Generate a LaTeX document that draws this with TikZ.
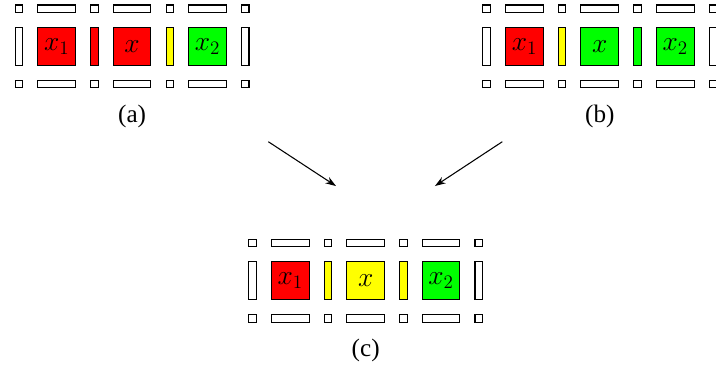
\documentclass[tikz,border=0pt]{standalone}
\usepackage{fontspec}
\setmainfont{Liberation Serif}
\usetikzlibrary{positioning,arrows.meta,calc}
\definecolor{CellRed}{RGB}{255,0,0}
\definecolor{CellGreen}{RGB}{0,255,0}
\definecolor{CellYellow}{RGB}{255,255,0}

\tikzset{
  cell/.style={draw, line width=0.8pt, inner sep=0pt, outer sep=0pt, fill=white},
  dot/.style={cell, minimum width=0.2cm, minimum height=0.2cm},
  hbar/.style={cell, minimum width=1cm, minimum height=0.2cm},
  vbar/.style={cell, minimum width=0.2cm, minimum height=1cm},
  sq/.style={cell, minimum width=1cm, minimum height=1cm, font=\fontsize{22}{24}\selectfont},
  caption/.style={font=\fontsize{19}{21}\selectfont},
  flow/.style={-{Stealth[length=8pt, width=5.5pt]}, line width=0.8pt}
}

% one 7x3 cell panel: #1 name, #2 origin, #3-#9 fills of the middle row
\newcommand{\cellpanel}[9]{%
  \begin{scope}[shift={(#2)}]
    \foreach \i in {0,2,4,6} {
      \node[dot] (#1-t\i) at (\i,1) {};
      \node[dot] (#1-b\i) at (\i,-1) {};
    }
    \foreach \i in {1,3,5} {
      \node[hbar] (#1-t\i) at (\i,1) {};
      \node[hbar] (#1-b\i) at (\i,-1) {};
    }
    \node[vbar, fill=#3] (#1-m0) at (0,0) {};
    \node[sq, fill=#4] (#1-m1) at (1,0) {$x_1$};
    \node[vbar, fill=#5] (#1-m2) at (2,0) {};
    \node[sq, fill=#6] (#1-m3) at (3,0) {$x$};
    \node[vbar, fill=#7] (#1-m4) at (4,0) {};
    \node[sq, fill=#8] (#1-m5) at (5,0) {$x_2$};
    \node[vbar, fill=#9] (#1-m6) at (6,0) {};
    \node[caption] (#1-cap) at (3,-1.85) {(#1)};
  \end{scope}
}

\begin{document}
\begin{tikzpicture}
  \useasboundingbox (0,0) rectangle (18.992,-9.867);
  \cellpanel{a}{0.504,-1.233}{white}{CellRed}{CellRed}{CellRed}{CellYellow}{CellGreen}{white}
  \cellpanel{b}{12.91,-1.233}{white}{CellRed}{CellYellow}{CellGreen}{CellGreen}{CellGreen}{white}
  \cellpanel{c}{6.70,-7.446}{white}{CellRed}{CellYellow}{CellYellow}{CellYellow}{CellGreen}{white}
  % merge arrows
  \coordinate (a-out) at (7.117,-3.759);
  \coordinate (b-out) at (13.324,-3.759);
  \coordinate (c-inl) at (8.912,-4.934);
  \coordinate (c-inr) at (11.538,-4.934);
  \draw[flow] (a-out) -- (c-inl);
  \draw[flow] (b-out) -- (c-inr);
\end{tikzpicture}
\end{document}
